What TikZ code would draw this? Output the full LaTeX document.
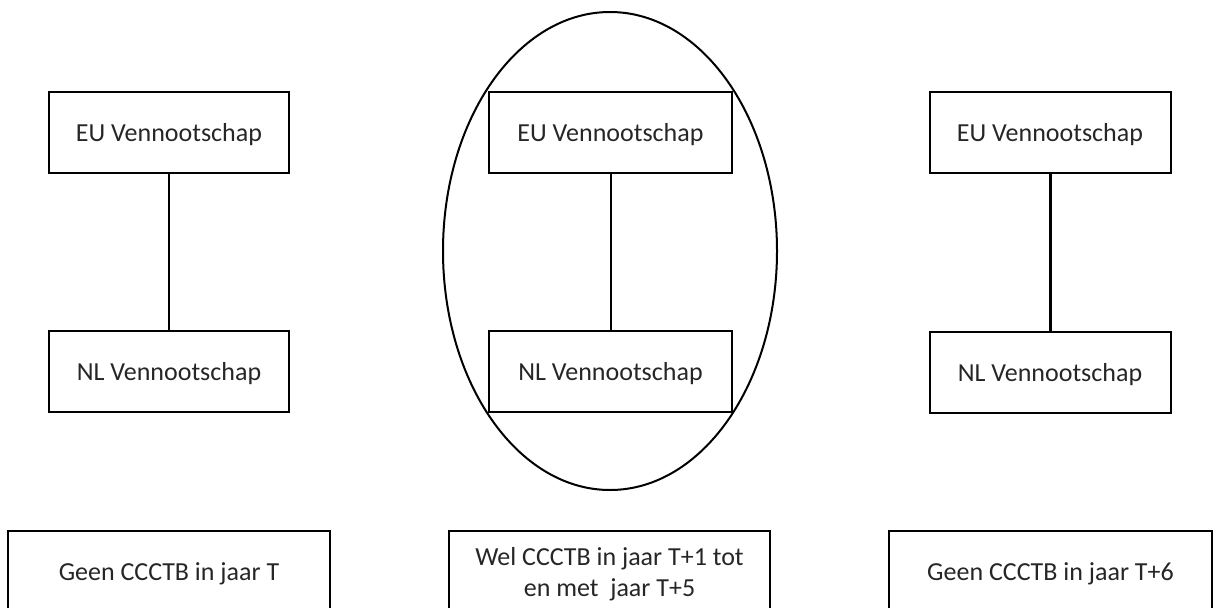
\documentclass[tikz,border=0pt]{standalone}
\usepackage{fontspec}
\setmainfont{Carlito}
\begin{document}
\begin{tikzpicture}[x=1pt,y=-1pt,
  box/.style={draw=black, line width=2pt, fill=none, inner sep=0pt,
    font=\fontsize{26}{31}\selectfont, text=black!85, align=center,
    text depth=0pt},
  firm/.style={box, minimum width=240pt, minimum height=81pt},
  yearbox/.style={box, minimum width=322pt, minimum height=82pt},
  link/.style={line width=2pt}]
\useasboundingbox (0,0) rectangle (1216,608);
\clip (0,0) rectangle (1216,608);

% boundary around the middle group
\draw[line width=2pt] (610,251) ellipse [x radius=167, y radius=239];

% left group
\node[firm] (euA) at (169,132) {EU Vennootschap};
\node[firm] (nlA) at (169,371.5) {NL Vennootschap};
\draw[link] (euA) -- (nlA);

% middle group
\node[firm, minimum width=243pt] (euB) at (610.5,132) {EU Vennootschap};
\node[firm, minimum width=243pt] (nlB) at (610.5,371.5) {NL Vennootschap};
\draw[link] (euB) -- (nlB);

% right group
\node[firm, minimum width=241pt] (euC) at (1050,132) {EU Vennootschap};
\node[firm, minimum width=241pt] (nlC) at (1050,372) {NL Vennootschap};
\draw[line width=3pt] (euC) -- (nlC);

% year captions (open at the bottom edge)
\node[yearbox] (yA) at (169,572) {Geen CCCTB in jaar T};
\node[yearbox, minimum width=321pt] (yB) at (609.5,572) {Wel CCCTB in jaar T+1 tot\\en met\ \ jaar T+5};
\node[yearbox, minimum width=323pt] (yC) at (1050.5,572) {Geen CCCTB in jaar T+6};
\end{tikzpicture}
\end{document}
